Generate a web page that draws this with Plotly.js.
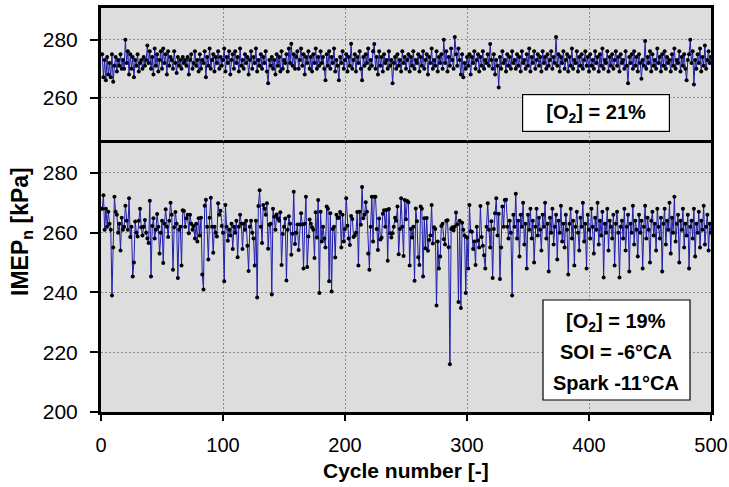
<!DOCTYPE html>
<html>
<head>
<meta charset="utf-8">
<script src="https://cdn.plot.ly/plotly-3.0.1.min.js"></script>
<style>html,body{margin:0;padding:0;background:#fff;}#chart{width:729px;height:487px;}</style>
</head>
<body>
<div id="chart"></div>
<script>
// IMEPn per cycle, [O2] = 21% (top panel), kPa
const imep21 = [
275,267,273,266,274,268,272,267,275,265.5,271,274,269,273,271,275,270,273,270,280,
272,276,268,275,270,274,267,273,271,275,269,272,273,270,274,271,273,278,272,276,
270,274,268,277,271,275,269,273,276,270,277,272,275,268,276,271,274,273,270,276,
272,268.5,274,271,273,270,274,272,273,271,274,268,273,275,270,272,276,271,273,269,
275,270,273,272,276,267,274,271,277,270,273,275,269,274,272,276,270,274,271,273,
277,269,274,272,276,268,273,275,270,276,272,274,269,277,271,273,270,275,272,274,
268,273,276,270,274,272,277,269,273,271,275,270,274,272,276,269,265,273,271,274,
270,273,268,275,271,274,269,276,270,273,272,275,269,277,272,278.6,271,275,270,274,
276,270,273,277,271,275,268,274,272,276,270,274,269,275,272,277,270,274,271,276,
272,274,270,266,275,271,276,270,274,272,277,269,273,271,266,274,272,276,270,273,
275,269,274,271,278.6,270,273,275,269,274,272,276,270,266,274,271,275,272,277,270,
273,271,276,278.5,270,274,268,276,271,274,269,275,272,273,270,276,271,273,265,272,
274,270,275,271,273,269,276,272,274,270,273,275,269,274,271,276,270,273,272,275,
269,274,271,276,270,273,275,268,274,272,277,270,273,271,276,269,274,272,275,270,
280,272,276,269,274,271,277,273,270,281,275,271,277,273,268,275,267,272,270,274,
271,275,268,274,272,276,270,273,275,269,274,271,276,270,273,272,275,271,278.5,273,
270,275,268,273,271,263.5,274,270,276,272,273,269,275,271,274,270,276,272,273,270,
275,271,274,269,276,272,273,270,275,271,277,269,274,272,276,270,273,275,271,274,
269,276,272,274,270,275,271,273,276,270,274,272,281,271,275,269,274,272,276,270,
273,275,269,274,271,277,270,273,272,276,269,274,271,275,270,273,276,271,274,269,
275,271,273,270,276,272,274,269,275,271,277,270,273,272,276,269,274,271,275,270,
273,276,271,274,269,275,272,273,270,276,271,265,274,272,275,270,276,271,274,269,
275,272,266.5,273,271,279.6,270,274,272,276,269,275,271,273,270,277,272,274,269,275,
271,276,270,274,272,273,269,275,271,277,270,273,272,276,269,274,271,275,270,266,
273,275,280,272,276,264.5,273,270,275,272,277,269,274,271,278,270,273,276,272,274
];
// IMEPn per cycle, [O2] = 19% (bottom panel), kPa
const imep19 = [
268,272.5,261,268,262,267,263,261,239,255,272,267,266,260,263,254,265,261,262,269,
264,261,271.5,258.5,262,245.3,250,263.7,260,258.7,264,268,261.8,259,262,264.2,260,258,256.5,270.7,
245.3,262.2,264.8,258,261,266.2,262,253,260,264,249.8,263,267.8,262,258.5,264,270,266,247.6,261.8,
266.9,263,244.8,261,262,249,267.5,267.2,262,264.8,266,259.8,266,263,261,262.2,258,263,257,264.8,
259,265,246,241,269,271,262,251,265,271.7,262,253.3,262,260,258.7,269.8,266,267.3,262.2,260,
243.7,269.2,262,257.3,261,259,263,254.5,262,260,264,251.8,262,266,263,254.5,263,261,264,255.6,
247.2,262,264,260,258,249,264,238.3,268.9,274.2,262,256.5,269.2,268,266,269.8,254.6,262.6,263,239.3,
268,265.3,261,266.1,264.8,264,266.8,249.2,259.5,262,264.7,244,261,265.5,263,252.6,259.6,273.7,256.2,260,
262.7,254.2,262.7,266.5,262.7,248,263,272,248.5,258.7,264.4,263,261.8,261,251.5,266.8,258.4,270.9,239.8,267,
257,262,258,255,268.7,268,243.7,266.5,240.3,261.2,262,251.7,266,264.9,265,266.9,255,266,257,261.2,
271.5,262.3,258,255.9,265.6,264.6,258.5,259,260,266.9,249,267,262.6,275.3,264.8,266,270.2,267,253,247.6,
262,272,257,272,272,261.2,254.2,264.7,257.7,258.3,266.3,267.5,262,267.6,250.6,267.9,259.8,258.4,259.8,262,
265,264,268.7,252.8,261.2,271.5,262,252.2,270.9,264.5,270.6,270.2,249,261.2,258.4,262,243.9,268.1,263.8,251.8,
249.2,268.7,268,245.3,264.8,254.8,264.9,253.9,257.5,259,269.2,256.4,261.8,261.2,235.6,257,248,252,262.2,263,
257.8,256,264,264.1,255.1,216,261.2,261.8,260.8,262,266.7,262.8,236.8,264,234.8,263.3,261,259,239.8,258.4,
248,269.2,260.5,260.3,254.5,257,249.2,262,257.4,255,268.9,258.5,255.6,252.4,248,262,269.8,261,255,263.8,
244.8,261.2,266.5,271.5,259,266.3,244.5,255,268.7,262,270.9,271,262,258,264,260,239,266,262,273,
258,264,252,266,262,270,256,263,248,266,261,268,258,264,250,262,268,259,265,261,
254,266,262,270,258,263,247,265,260,268,256,262,266,251,264,260,269,257,263,255,
266,261,246,263,268,258,264,249,262,267,260,254,265,262,270,257,263,248,266,261,
258,268,262,253,265,261,270,256,264,259,267,245,263,260,268,254,264,262,258,266,
249,263,267,260,245,262,264,258,268,254,262,266,247,263,260,269,256,264,261,252,
266,260,264,248,262,269,258,265,261,250,264,267,259,263,254,268,262,258,265,247,
263,268,256,264,261,270,253,265,260,272,257,263,266,250,264,261,268,255,263,259,
266,248,262,264,258,268,252,263,260,267,255,264,261,269,256,262,266,254,263,260
];
const cycles21 = imep21.map((v, i) => i + 1);
const cycles19 = imep19.map((v, i) => i + 1);
const xTicks = [0, 100, 200, 300, 400, 500];
const yTicksTop = [260, 280];
const yTicksBottom = [200, 220, 240, 260, 280];
const label21 = "[O<sub>2</sub>] = 21%";
const label19Lines = ["[O<sub>2</sub>] = 19%", "SOI = -6°CA", "Spark -11°CA"];
const xTitle = "Cycle number [-]";
const yTitle = "IMEP<sub>n</sub> [kPa]";

const FONT = "Liberation Sans, Arial, sans-serif";
const lineColor = "#1e1eaa";
const mk = {color: "#000", size: 4};

const traces = [
  {x: cycles21, y: imep21, xaxis: "x2", yaxis: "y2", mode: "lines+markers",
   line: {color: lineColor, width: 1}, marker: mk, hoverinfo: "skip"},
  {x: cycles19, y: imep19, xaxis: "x", yaxis: "y", mode: "lines+markers",
   line: {color: lineColor, width: 1}, marker: mk, hoverinfo: "skip"}
];

const grid = {showgrid: true, gridcolor: "#8c8c8c", gridwidth: 1, griddash: "2px,2px"};

// paper coordinate helpers (plot area: x 101..711 px, y 8..412 px)
const px = v => (v - 101) / 610;
const py = v => (412 - v) / 404;

const lineY = [322, 352, 383];
const annotations = [
  {text: "<b>" + label21 + "</b>", xref: "paper", yref: "paper", x: px(596), y: py(113),
   xanchor: "center", yanchor: "middle", showarrow: false, width: 144, height: 34,
   bgcolor: "#ffffff", bordercolor: "#000", borderwidth: 1.2, borderpad: 1,
   font: {size: 20, family: FONT}},
  {text: "<b>" + xTitle + "</b>", xref: "paper", yref: "paper", x: 0.5, y: py(471),
   xanchor: "center", yanchor: "middle", showarrow: false, font: {size: 21, family: FONT}},
  {text: "<b>" + yTitle + "</b>", xref: "paper", yref: "paper", x: px(21), y: py(232),
   xanchor: "center", yanchor: "middle", showarrow: false, textangle: -90,
   font: {size: 23, family: FONT}}
];
label19Lines.forEach((t, i) => annotations.push({
  text: "<b>" + t + "</b>", xref: "paper", yref: "paper", x: px(616), y: py(lineY[i]),
  xanchor: "center", yanchor: "middle", showarrow: false, font: {size: 20, family: FONT}
}));

const layout = {
  width: 729, height: 487,
  margin: {l: 101, r: 18, t: 8, b: 75},
  paper_bgcolor: "#ffffff",
  plot_bgcolor: "#dddddd",
  showlegend: false,
  font: {family: FONT, color: "#000", size: 21},
  xaxis: Object.assign({}, grid, {
    domain: [0, 1], range: [0, 500], anchor: "y",
    tickmode: "array", tickvals: xTicks, ticktext: xTicks.map(String),
    ticks: "outside", ticklen: 6, tickwidth: 2, tickcolor: "#000",
    showline: true, linewidth: 3, linecolor: "#000", mirror: true,
    zeroline: false, ticklabelstandoff: 7,
    tickfont: {size: 20, family: FONT}
  }),
  yaxis: Object.assign({}, grid, {
    domain: [0, 0.666], range: [200, 290], anchor: "x",
    tickmode: "array", tickvals: yTicksBottom, ticktext: yTicksBottom.map(String),
    ticks: "outside", ticklen: 8, tickwidth: 2, tickcolor: "#000",
    showline: true, linewidth: 3, linecolor: "#000", mirror: true,
    zeroline: false, ticklabelstandoff: 8,
    tickfont: {size: 21, family: FONT}
  }),
  xaxis2: Object.assign({}, grid, {
    domain: [0, 1], range: [0, 500], anchor: "y2", side: "top",
    tickmode: "array", tickvals: xTicks, showticklabels: false, ticks: "",
    showline: true, linewidth: 3, linecolor: "#000", mirror: false, zeroline: false
  }),
  yaxis2: Object.assign({}, grid, {
    domain: [0.671, 1], range: [245, 291], anchor: "x2",
    tickmode: "array", tickvals: yTicksTop, ticktext: yTicksTop.map(String),
    ticks: "outside", ticklen: 8, tickwidth: 2, tickcolor: "#000",
    showline: true, linewidth: 3, linecolor: "#000", mirror: true,
    zeroline: false, ticklabelstandoff: 8,
    tickfont: {size: 21, family: FONT}
  }),
  shapes: [
    {type: "rect", xref: "paper", yref: "paper", layer: "above",
     x0: px(543), x1: px(690), y0: py(400), y1: py(300),
     fillcolor: "#ffffff", line: {color: "#000", width: 1.2}}
  ],
  annotations: annotations
};

Plotly.newPlot("chart", traces, layout, {staticPlot: true, displayModeBar: false});
</script>
</body>
</html>
